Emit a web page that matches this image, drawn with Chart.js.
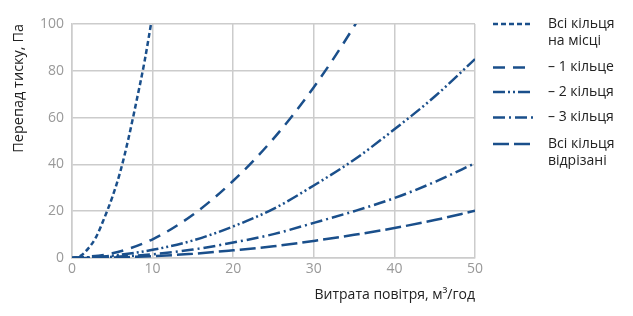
<!DOCTYPE html>
<html>
<head>
<meta charset="utf-8">
<script src="https://cdn.jsdelivr.net/npm/chart.js@4.4.1/dist/chart.umd.min.js"></script>
<style>
  html, body { margin: 0; padding: 0; background: #fff; }
  #wrap { width: 633px; height: 316px; }
</style>
</head>
<body>
<div id="wrap"><canvas id="canvas" width="633" height="316"></canvas></div>
<script>
// values (flow m3/h -> pressure drop Pa)
var flowAll = [0, 1, 2, 3, 4, 5, 6, 7, 8, 9, 10];
var dpAll = [0, 0.8, 4, 9, 17, 26, 37, 51, 67, 84, 104];

var flowOne = [0, 5, 10, 15, 20, 25, 30, 35, 36];
var dpOne = [0, 2, 8, 18.5, 33, 51, 73, 99, 105];

var flowRest = [0, 5, 10, 15, 20, 25, 30, 35, 40, 45, 50];
var dpTwo = [0, 1, 3.5, 7.5, 13.5, 21, 31, 42, 55, 69, 85];
var dpThree = [0, 0.5, 1.6, 3.6, 6.6, 10.2, 15, 20, 25.6, 32.5, 40.5];
var dpCut = [0, 0.2, 0.8, 1.8, 3.3, 5, 7.3, 9.9, 12.8, 16.2, 20.2];

var legendLabels = [
    ['Всі кільця', 'на місці'],
    ['– 1 кільце'],
    ['– 2 кільця'],
    ['– 3 кільця'],
    ['Всі кільця', 'відрізані']
];

var blue = '#1a4f8b';
var fontFam = '"Open Sans", "Noto Sans", sans-serif';

function pts(xs, ys) {
    return xs.map(function (x, i) { return { x: x, y: ys[i] }; });
}

function ds(xs, ys, dash) {
    return {
        data: pts(xs, ys),
        showLine: true,
        borderColor: blue,
        borderWidth: 2.5,
        borderDash: dash,
        pointRadius: 0,
        tension: 0.3,
        cubicInterpolationMode: 'monotone',
        fill: false
    };
}

// side legend with two-line labels
var sideLegend = {
    id: 'sideLegend',
    afterDraw: function (c) {
        var ctx = c.ctx;
        var rows = [[24, 41.5], [67.5], [92], [117.5], [144, 161.5]];
        ctx.save();
        ctx.font = '14px ' + fontFam;
        ctx.fillStyle = '#222';
        ctx.textBaseline = 'middle';
        c.data.datasets.forEach(function (d, i) {
            var y = rows[i][0];
            ctx.beginPath();
            ctx.strokeStyle = d.borderColor;
            ctx.lineWidth = d.borderWidth;
            ctx.setLineDash(d.borderDash);
            ctx.moveTo(493, y);
            ctx.lineTo(533, y);
            ctx.stroke();
            legendLabels[i].forEach(function (t, k) {
                ctx.fillText(t, 548, rows[i][k]);
            });
        });
        ctx.restore();
    }
};

new Chart(document.getElementById('canvas').getContext('2d'), {
    type: 'scatter',
    data: {
        datasets: [
            ds(flowAll, dpAll, [5, 3]),
            ds(flowOne, dpOne, [12, 8]),
            ds(flowRest, dpTwo, [12, 3, 2, 3, 2, 3]),
            ds(flowRest, dpThree, [12, 4, 2, 4]),
            ds(flowRest, dpCut, [16, 5])
        ]
    },
    options: {
        responsive: false,
        animation: false,
        layout: { padding: { top: 24, right: 158, left: 6, bottom: 9 } },
        plugins: {
            legend: { display: false },
            tooltip: { enabled: false }
        },
        scales: {
            x: {
                type: 'linear',
                min: 0,
                max: 50,
                afterFit: function (s) { s.height = 49; },
                ticks: { stepSize: 10, color: '#999', font: { size: 14, family: fontFam }, padding: 3 },
                grid: { color: '#ccc', lineWidth: 1.5, drawTicks: false },
                border: { color: '#ccc', width: 1.5 },
                title: {
                    display: true,
                    text: 'Витрата повітря, м³/год',
                    align: 'end',
                    color: '#222',
                    font: { size: 14, family: fontFam },
                    padding: { top: 0, bottom: 4 }
                }
            },
            y: {
                min: 0,
                max: 100,
                afterFit: function (s) { s.width = 66; },
                ticks: { stepSize: 20, color: '#999', font: { size: 14, family: fontFam }, padding: 8 },
                grid: { color: '#ccc', lineWidth: 1.5, drawTicks: false },
                border: { color: '#ccc', width: 1.5 },
                title: {
                    display: true,
                    text: 'Перепад тиску, Па',
                    align: 'end',
                    color: '#222',
                    font: { size: 14.5, family: fontFam },
                    padding: { top: 4, bottom: 4 }
                }
            }
        }
    },
    plugins: [sideLegend]
});
</script>
</body>
</html>
